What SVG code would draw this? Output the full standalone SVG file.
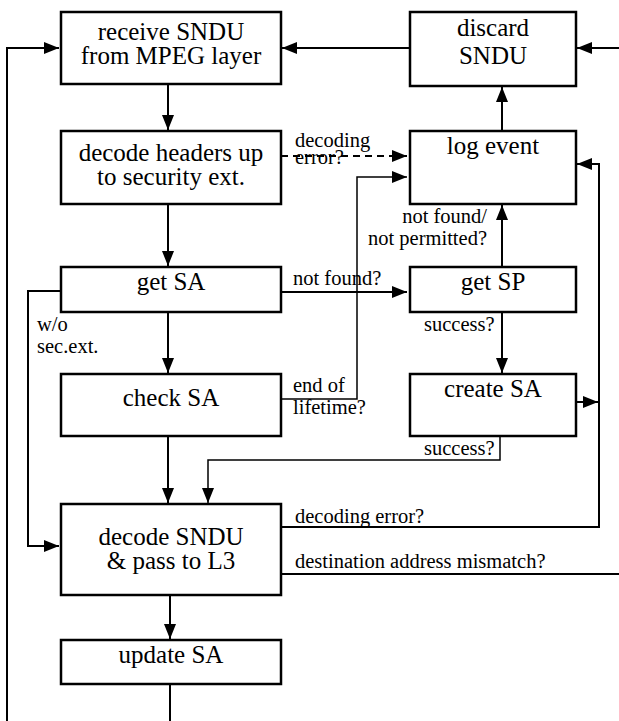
<svg xmlns="http://www.w3.org/2000/svg" width="619" height="721" viewBox="0 0 619 721">
<style>
.box{fill:#fff;stroke:#000;stroke-width:2.5}
text{font-family:'Liberation Serif','Times New Roman','DejaVu Serif',serif;fill:#000}
.bt{font-size:25px;text-anchor:middle}
.lb{font-size:20.5px}
.c{fill:none;stroke:#000;stroke-width:2}
.t{fill:none;stroke:#000;stroke-width:1.5}
</style>
<defs>
<marker id="ah" markerUnits="userSpaceOnUse" markerWidth="15" markerHeight="12" refX="15" refY="6" orient="auto"><path d="M0,0 L15,6 L0,12 z" fill="#000"/></marker>
</defs>
<g id="connectors">
<polyline class="c" points="7,721 7,48 59,48" marker-end="url(#ah)"/>
<line class="c" x1="410" y1="48" x2="282" y2="48" marker-end="url(#ah)"/>
<line class="c" x1="619" y1="48" x2="577" y2="48" marker-end="url(#ah)"/>
<line class="c" x1="168" y1="84" x2="168" y2="130" marker-end="url(#ah)"/>
<line class="c" x1="281" y1="156" x2="407" y2="156" stroke-dasharray="7,5" marker-end="url(#ah)"/>
<line class="c" x1="502" y1="131" x2="502" y2="87" marker-end="url(#ah)"/>
<line class="c" x1="168" y1="204" x2="168" y2="266" marker-end="url(#ah)"/>
<polyline class="t" points="281,399 357,399 357,177 407,177" marker-end="url(#ah)"/>
<line class="c" x1="281" y1="292" x2="407" y2="292" marker-end="url(#ah)"/>
<line class="c" x1="502" y1="267" x2="502" y2="205" marker-end="url(#ah)"/>
<polyline class="c" points="61,291 28,291 28,546 59,546" marker-end="url(#ah)"/>
<line class="c" x1="168" y1="312" x2="168" y2="373" marker-end="url(#ah)"/>
<line class="c" x1="502" y1="312" x2="502" y2="373" marker-end="url(#ah)"/>
<line class="c" x1="576" y1="402" x2="598" y2="402" marker-end="url(#ah)"/>
<line class="c" x1="168" y1="436" x2="168" y2="503" marker-end="url(#ah)"/>
<polyline class="t" points="500,436 500,460 208,460 208,503" marker-end="url(#ah)"/>
<polyline class="c" points="281,527 599,527 599,164 577,164" marker-end="url(#ah)"/>
<line class="c" x1="281" y1="574" x2="619" y2="574"/>
<line class="c" x1="170" y1="595" x2="170" y2="639" marker-end="url(#ah)"/>
<line class="c" x1="170" y1="684" x2="170" y2="721"/>
</g>
<g id="receive"><rect class="box" x="61" y="12" width="220" height="72"/><text class="bt" x="171" y="40">receive SNDU</text><text class="bt" x="171" y="64">from MPEG layer</text></g>
<g id="discard"><rect class="box" x="410" y="12" width="166" height="74"/><text class="bt" x="493" y="36">discard</text><text class="bt" x="493" y="64">SNDU</text></g>
<g id="decodeheaders"><rect class="box" x="61" y="131" width="220" height="73"/><text class="bt" x="171" y="161">decode headers up</text><text class="bt" x="171" y="185">to security ext.</text></g>
<g id="logevent"><rect class="box" x="410" y="131" width="166" height="73"/><text class="bt" x="493" y="154">log event</text></g>
<g id="getsa"><rect class="box" x="61" y="267" width="220" height="45"/><text class="bt" x="171" y="290">get SA</text></g>
<g id="getsp"><rect class="box" x="410" y="267" width="166" height="45"/><text class="bt" x="493" y="290">get SP</text></g>
<g id="checksa"><rect class="box" x="61" y="374" width="220" height="62"/><text class="bt" x="171" y="406">check SA</text></g>
<g id="createsa"><rect class="box" x="410" y="374" width="166" height="62"/><text class="bt" x="493" y="397">create SA</text></g>
<g id="decodesndu"><rect class="box" x="61" y="504" width="220" height="91"/><text class="bt" x="171" y="545">decode SNDU</text><text class="bt" x="171" y="569">&amp; pass to L3</text></g>
<g id="updatesa"><rect class="box" x="61" y="640" width="220" height="44"/><text class="bt" x="171" y="663">update SA</text></g>
<g id="labels">
<text class="lb" x="295" y="147">decoding</text>
<text class="lb" x="295" y="164">error?</text>
<text class="lb" x="487" y="223" text-anchor="end">not found/</text>
<text class="lb" x="487" y="245" text-anchor="end">not permitted?</text>
<text class="lb" x="293" y="285">not found?</text>
<text class="lb" x="37" y="331">w/o</text>
<text class="lb" x="37" y="353">sec.ext.</text>
<text class="lb" x="424" y="331">success?</text>
<text class="lb" x="293" y="392">end of</text>
<text class="lb" x="293" y="414">lifetime?</text>
<text class="lb" x="424" y="455">success?</text>
<text class="lb" x="295" y="523">decoding error?</text>
<text class="lb" x="295" y="568">destination address mismatch?</text>
</g>
</svg>
